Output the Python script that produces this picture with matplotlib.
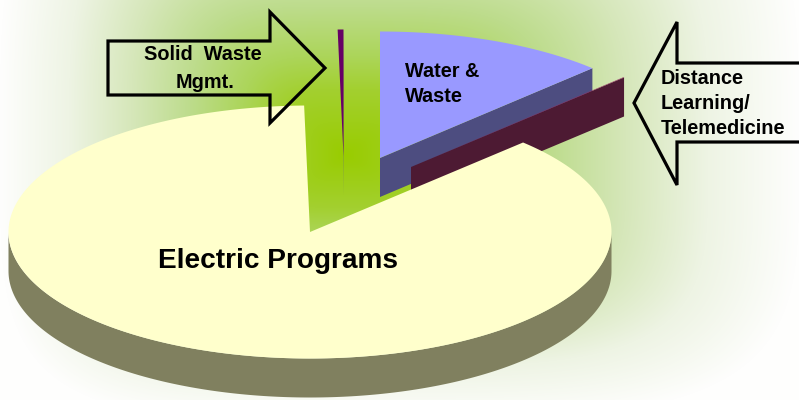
import numpy as np
import matplotlib
matplotlib.use("Agg")
import matplotlib.pyplot as plt
from matplotlib.patches import Polygon

# ---- data (clockwise from 12 o'clock) ----
categories = ["Water & Waste", "Distance Learning/Telemedicine", "Electric Programs", "Solid Waste Mgmt."]
shares = [12.44, 0.05, 87.2, 0.31]
top_colors = ["#9999ff", "#993366", "#ffffcc", "#660066"]
side_colors = ["#4d4d80", "#4d1a33", "#80805f", "#6a6a80"]
apex_x = [380, 411, 310, 343.5]
apex_y = [158, 167, 232, 156]
draw_order = [0, 1, 3, 2]

RX, RY, DEPTH = 301.5, 126.5, 39

plt.rcParams['font.family'] = ['Liberation Sans', 'DejaVu Sans']
fig = plt.figure(figsize=(7.99, 4.0), dpi=100)
ax = fig.add_axes([0, 0, 1, 1])
ax.set_xlim(0, 799)
ax.set_ylim(400, 0)
ax.axis("off")

# background gradient
xx, yy = np.meshgrid(np.arange(799) + .5, np.arange(400) + .5)
dx = np.where(xx < 345, (345 - xx) / 345, (xx - 345) / 454)
dy = np.where(yy < 155, (155 - yy) / 330, (yy - 155) / 265)
t = np.clip((dx ** 4 + dy ** 4) ** (1 / 4), 0, 1)
stops = np.array([0, .2, .3, .45, .62, .8, 1.0])
cols = np.array([[0x99, 0xcc, 0x00], [0xa3, 0xd0, 0x30], [0xac, 0xd5, 0x5a], [0xbd, 0xdc, 0x8c],
                 [0xd6, 0xe7, 0xba], [0xee, 0xf4, 0xe4], [0xfe, 0xfe, 0xfd]]) / 255
img = np.stack([np.interp(t, stops, cols[:, i]) for i in range(3)], axis=-1)
ax.imshow(img, extent=(0, 799, 400, 0), aspect="auto", zorder=0, interpolation="bilinear")
ax.set_xlim(0, 799)
ax.set_ylim(400, 0)


def arc(cx, cy, a0, a1, n=240):
    a = np.radians(np.linspace(a0, a1, n))
    return np.c_[cx + RX * np.cos(a), cy - RY * np.sin(a)]


# angular spans from the shares
ends = 90 - np.cumsum(shares) * 3.6
starts = np.r_[90, ends[:-1]]

z = 2
for i in draw_order:
    cx, cy = apex_x[i], apex_y[i]
    a0, a1 = starts[i], ends[i]
    apex = np.array([[cx, cy]])
    down = np.array([0, DEPTH])
    curve = arc(cx, cy, a0, a1, max(2, int(abs(a0 - a1) * 3)))
    kw = dict(edgecolor="none", antialiased=True)
    if categories[i].startswith("Electric"):
        # outer rim, lower half only
        rim = arc(cx, cy, 180, 360)
        ax.add_patch(Polygon(np.r_[rim, (rim + down)[::-1]], facecolor=side_colors[i], zorder=z, **kw))
    elif categories[i].startswith("Solid"):
        # cut face on the leading (left) side
        p = curve[-1]
        ax.add_patch(Polygon(np.array([p, apex[0], apex[0] + down, p + down]),
                             facecolor=side_colors[i], zorder=z, **kw))
    else:
        # cut face on the trailing (right) side
        p = curve[-1]
        ax.add_patch(Polygon(np.array([apex[0], p, p + down, apex[0] + down]),
                             facecolor=side_colors[i], zorder=z, **kw))
    ax.add_patch(Polygon(np.r_[apex, curve], facecolor=top_colors[i], zorder=z + .5, **kw))
    z += 1

# callout arrows
right_arrow_x = [108, 270, 270, 325, 270, 270, 108]
right_arrow_y = [41, 41, 12, 68, 123, 95, 95]
left_arrow_x = [815, 677, 677, 634, 677, 677, 815]
left_arrow_y = [63, 63, 22, 103, 185, 142, 142]
for xs, ys in ((right_arrow_x, right_arrow_y), (left_arrow_x, left_arrow_y)):
    ax.add_patch(Polygon(np.c_[xs, ys], closed=True, facecolor="none", edgecolor="black",
                         linewidth=2.3, joinstyle="miter", zorder=20, clip_on=True))

# labels
def label(x, y, s, size, ha="left"):
    ax.text(x, y, s, fontsize=size, fontweight="bold", ha=ha, va="center", color="black", zorder=21)

label(202.5, 55, "Solid  Waste", 14.3, "center")
label(205.5, 82, "Mgmt.", 14.3, "center")
label(405, 71.5, "Water &", 14.3)
label(405, 96.5, "Waste", 14.3)
label(661, 78.5, "Distance", 14.3)
label(661, 103.5, "Learning/", 14.3)
label(661, 128, "Telemedicine", 14.3)
label(277.5, 260.5, "Electric Programs", 20.2, "center")

fig.savefig("out.png", dpi=100)
